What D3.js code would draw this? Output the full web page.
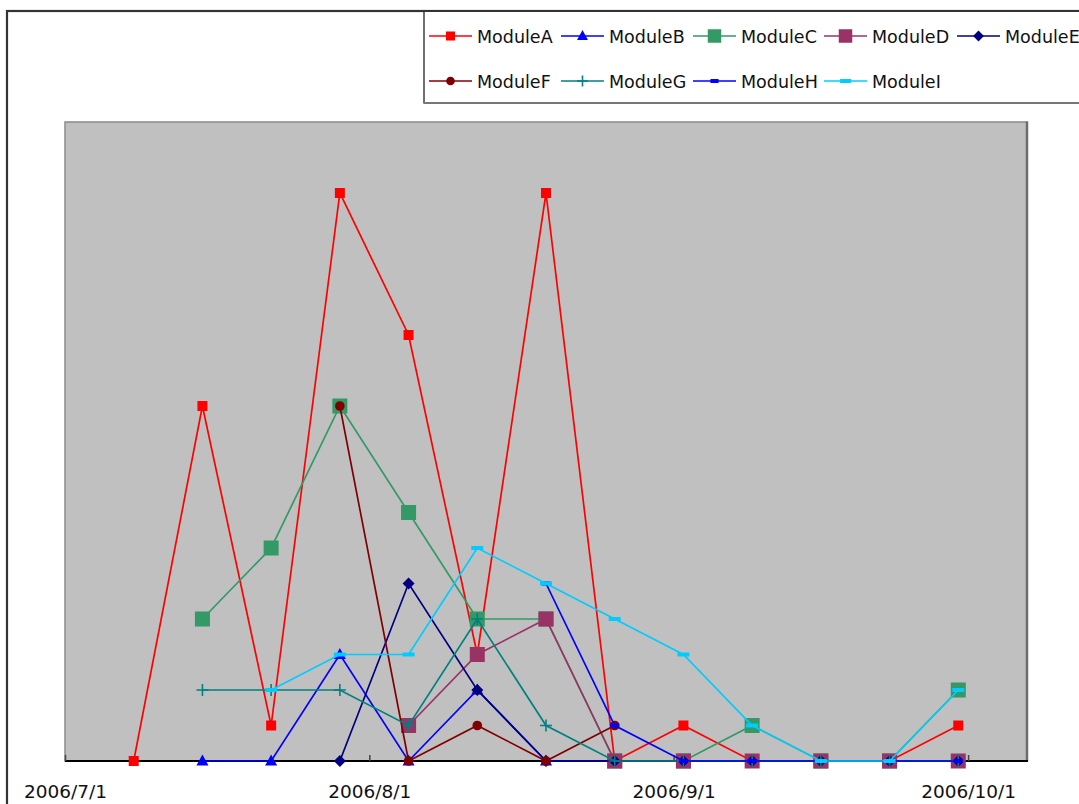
<!DOCTYPE html>
<html>
<head>
<meta charset="utf-8">
<script src="https://cdn.jsdelivr.net/npm/d3@7"></script>
<style>
  html, body { margin: 0; padding: 0; background: #fff; }
  svg { display: block; }
</style>
</head>
<body>
<svg id="chart" width="1079" height="804"></svg>
<script>
// Weekly reporting dates
const dates = ["2006-07-08","2006-07-15","2006-07-22","2006-07-29","2006-08-05","2006-08-12",
               "2006-08-19","2006-08-26","2006-09-02","2006-09-09","2006-09-16","2006-09-23","2006-09-30"];

// Counts per module (null = no entry that week)
const moduleA = [0, 10, 1, 16, 12, 3, 16, 0, 1, 0, 0, 0, 1];
const moduleB = [null, 0, 0, 3, 0, 2, 0, 0, 0, 0, 0, 0, 0];
const moduleC = [null, 4, 6, 10, 7, 4, 4, 0, 0, 1, 0, 0, 2];
const moduleD = [null, null, null, null, 1, 3, 4, 0, 0, 0, 0, 0, 0];
const moduleE = [null, null, null, 0, 5, 2, 0, 0, 0, 0, 0, 0, 0];
const moduleF = [null, null, null, 10, 0, 1, 0, 1, null, null, null, null, null];
const moduleG = [null, 2, 2, 2, 1, 4, 1, 0, 0, 0, 0, 0, 0];
const moduleH = [null, null, null, null, null, null, 5, 1, 0, 0, 0, 0, 0];
const moduleI = [null, null, 2, 3, 3, 6, 5, 4, 3, 1, 0, 0, 2];

const seriesNames = ["ModuleA","ModuleB","ModuleC","ModuleD","ModuleE","ModuleF","ModuleG","ModuleH","ModuleI"];
const seriesValues = [moduleA, moduleB, moduleC, moduleD, moduleE, moduleF, moduleG, moduleH, moduleI];
const seriesColors = ["#FF0000","#0000FF","#339966","#993366","#000080","#800000","#008080","#0000FF","#00CCFF"];
const seriesMarkers = ["square","triangle","bigsquare","bigsquare","diamond","circle","plus","dash","widedash"];

const tickDates = ["2006-07-01","2006-08-01","2006-09-01","2006-10-01"];
const tickLabels = ["2006/7/1","2006/8/1","2006/9/1","2006/10/1"];
const xDomain = ["2006-07-01","2006-10-07"];
const yMax = 18;

const parse = d3.utcParse("%Y-%m-%d");
const svg = d3.select("#chart");

const plot = { left: 65, right: 1027, top: 122, bottom: 761 };
const x = d3.scaleUtc().domain(xDomain.map(parse)).range([plot.left, plot.right]);
const y = d3.scaleLinear().domain([0, yMax]).range([plot.bottom, plot.top]);

// Chart frame
svg.append("rect").attr("x", 7).attr("y", 11).attr("width", 1100).attr("height", 820)
  .attr("fill", "#fff").attr("stroke", "#333").attr("stroke-width", 2.2);

// Plot area
svg.append("rect").attr("x", plot.left).attr("y", plot.top)
  .attr("width", plot.right - plot.left).attr("height", plot.bottom - plot.top)
  .attr("fill", "#C0C0C0").attr("stroke", "#8a8a8a").attr("stroke-width", 1.5);
svg.append("line").attr("x1", plot.right).attr("x2", plot.right)
  .attr("y1", plot.top - 0.5).attr("y2", plot.bottom)
  .attr("stroke", "#6e6e6e").attr("stroke-width", 2.5);

// X axis: baseline, inward ticks, labels
const xAxis = d3.axisBottom(x)
  .tickValues(tickDates.map(parse))
  .tickSizeInner(-6).tickSizeOuter(0)
  .tickFormat((d, i) => tickLabels[i]);
const gx = svg.append("g").attr("transform", `translate(0,${plot.bottom})`).call(xAxis);
gx.select(".domain").attr("stroke", "#000").attr("stroke-width", 2)
  .attr("d", `M${plot.left},0H${plot.right + 1}`);
gx.selectAll(".tick line").attr("stroke", "#444").attr("stroke-width", 1.5);
gx.selectAll(".tick text")
  .attr("y", 37).attr("dy", 0)
  .attr("font-family", "DejaVu Sans, sans-serif").attr("font-size", 18.5)
  .attr("fill", "#111");

// Marker drawing
function drawMarker(g, type, color, cx, cy, legend) {
  const s = legend ? 0.9 : 1;
  if (type === "square" || type === "bigsquare") {
    const w = (type === "square" ? 10 : 15) * s;
    g.append("rect").attr("x", cx - w / 2).attr("y", cy - w / 2).attr("width", w).attr("height", w)
      .attr("fill", color);
  } else if (type === "triangle") {
    const w = 11 * s;
    g.append("path").attr("d", `M${cx},${cy - w / 2 - 1}L${cx + w / 2 + 0.5},${cy + w / 2 - 1}L${cx - w / 2 - 0.5},${cy + w / 2 - 1}Z`)
      .attr("fill", color);
  } else if (type === "diamond") {
    const r = 6 * s;
    g.append("path").attr("d", `M${cx},${cy - r}L${cx + r},${cy}L${cx},${cy + r}L${cx - r},${cy}Z`)
      .attr("fill", color);
  } else if (type === "circle") {
    g.append("circle").attr("cx", cx).attr("cy", cy).attr("r", 4.8 * s).attr("fill", color);
  } else if (type === "plus") {
    const r = 6 * s;
    g.append("path").attr("d", `M${cx - r},${cy}H${cx + r}M${cx},${cy - r}V${cy + r}`)
      .attr("stroke", color).attr("stroke-width", 1.6).attr("fill", "none");
  } else if (type === "dash" || type === "widedash") {
    const w = (type === "dash" ? 9 : 12) * s;
    g.append("rect").attr("x", cx - w / 2).attr("y", cy - 2).attr("width", w).attr("height", 4)
      .attr("fill", color);
  }
}

// Series: each line followed by its markers, drawn in order
const line = d3.line()
  .defined(d => d.v !== null)
  .x(d => x(d.date))
  .y(d => y(d.v));

seriesNames.forEach((name, i) => {
  const pts = dates.map((d, j) => ({ date: parse(d), v: seriesValues[i][j] }));
  const g = svg.append("g").attr("class", "series");
  g.append("path").datum(pts).attr("d", line)
    .attr("fill", "none").attr("stroke", seriesColors[i]).attr("stroke-width", 1.7);
  pts.filter(p => p.v !== null).forEach(p => {
    drawMarker(g, seriesMarkers[i], seriesColors[i], x(p.date), y(p.v), false);
  });
});

// Legend
const legendG = svg.append("g");
legendG.append("rect").attr("x", 424).attr("y", 11).attr("width", 700).attr("height", 92)
  .attr("fill", "#fff").attr("stroke", "#111").attr("stroke-width", 1.2);
legendG.append("line").attr("x1", 424).attr("x2", 1079).attr("y1", 103).attr("y2", 103)
  .attr("stroke", "#777").attr("stroke-width", 2);
legendG.append("line").attr("x1", 7).attr("x2", 1079).attr("y1", 11).attr("y2", 11)
  .attr("stroke", "#333").attr("stroke-width", 2.2);

const legendCols = [429, 561, 693, 824, 957];
const legendRows = [36, 81];
seriesNames.forEach((name, i) => {
  const col = i < 5 ? i : i - 5;
  const row = i < 5 ? 0 : 1;
  const lx = legendCols[col], ly = legendRows[row];
  const g = legendG.append("g");
  g.append("line").attr("x1", lx).attr("x2", lx + 43).attr("y1", ly).attr("y2", ly)
    .attr("stroke", seriesColors[i]).attr("stroke-width", 1.7);
  drawMarker(g, seriesMarkers[i], seriesColors[i], lx + 21.5, ly, true);
  g.append("text").attr("x", lx + 48).attr("y", ly + 7)
    .attr("font-family", "DejaVu Sans, sans-serif").attr("font-size", 17.5)
    .attr("fill", "#111").text(name);
});
</script>
</body>
</html>
